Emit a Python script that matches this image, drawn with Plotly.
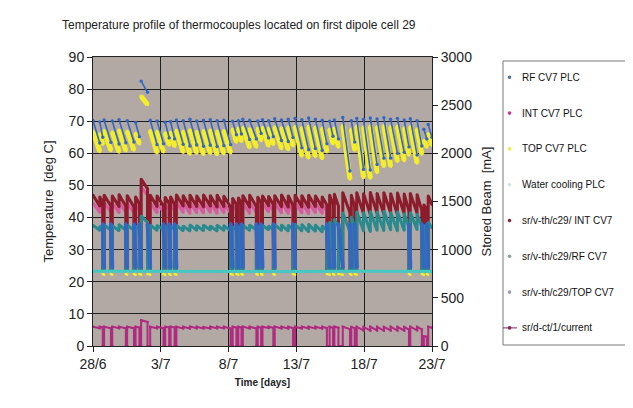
import plotly.graph_objects as go

# ---------------- data (days since 28/6) ----------------
tick_days = [0, 5, 10, 15, 20, 25]
tick_labels = ["28/6", "3/7", "8/7", "13/7", "18/7", "23/7"]

series_names = ["RF CV7 PLC", "INT CV7 PLC", "TOP CV7 PLC", "Water cooling PLC",
                "sr/v-th/c29/ INT CV7", "sr/v-th/c29/RF CV7", "sr/v-th/c29/TOP CV7",
                "sr/d-ct/1/current"]

# beam-fill periods (start / end of each fill); gaps between them = beam off
on_t0 = [0.00, 0.50, 0.82, 1.42, 1.92, 2.52, 3.14, 3.55, 4.22, 4.72,
         5.32, 5.72, 6.15, 6.65, 7.15, 7.65, 8.15, 8.65, 9.15, 9.65,
         10.30, 10.72, 11.05, 11.55, 12.15, 12.50, 12.95, 13.40, 13.90, 14.40,
         14.90, 15.40, 15.90, 16.40, 16.90, 17.45, 17.80, 18.42, 19.05, 19.45,
         19.95, 20.45, 20.95, 21.45, 21.95, 22.45, 22.95, 23.40, 23.90, 24.40,
         24.72]
on_t1 = [0.50, 0.72, 1.32, 1.92, 2.42, 3.02, 3.42, 4.02, 4.72, 5.20,
         5.62, 6.02, 6.65, 7.15, 7.65, 8.15, 8.65, 9.15, 9.65, 10.15,
         10.58, 10.95, 11.55, 12.05, 12.40, 12.95, 13.30, 13.90, 14.40, 14.75,
         15.40, 15.90, 16.40, 16.90, 17.25, 17.70, 18.10, 18.95, 19.30, 19.95,
         20.45, 20.95, 21.45, 21.95, 22.45, 22.95, 23.30, 23.90, 24.25, 24.62,
         25.00]

# RF CV7 PLC (deg C) at start / end of each fill
rf_hi = [70.2, 69.8, 70.4, 70.1, 70.5, 70.2, 69.6, 82.5, 70.3, 70.1,
         69.7, 69.9, 70.4, 70.2, 70.6, 70.1, 70.3, 70.5, 70.2, 70.3,
         70.0, 70.2, 70.6, 70.3, 70.1, 70.5, 70.2, 70.8, 70.4, 70.6,
         70.9, 70.5, 71.0, 70.6, 70.3, 70.0, 70.4, 71.2, 70.2, 70.9,
         70.6, 71.0, 70.7, 71.1, 70.6, 70.9, 70.4, 70.8, 70.2, 67.5,
         69.0]
rf_lo = [63.2, 65.0, 63.4, 62.9, 63.3, 63.5, 65.2, 79.0, 62.7, 63.0,
         64.8, 64.5, 62.8, 62.3, 62.6, 62.2, 62.5, 62.1, 62.4, 62.7,
         65.8, 66.0, 64.3, 64.5, 66.2, 64.8, 65.2, 64.0, 63.7, 64.9,
         61.7, 61.1, 61.5, 60.9, 63.0, 65.3, 64.5, 54.5, 63.5, 55.0,
         54.8, 56.5, 58.5, 58.5, 60.0, 60.3, 62.0, 59.5, 62.3, 64.5,
         65.0]
rf_off = [38.0, 24.5]      # RF reading while beam is off (top / bottom of the column)

# INT CV7 PLC
int_hi = [44.6, 44.2, 44.7, 44.5, 44.8, 44.6, 44.2, 49.5, 44.6, 44.5,
          44.0, 44.2, 44.8, 44.6, 44.7, 44.5, 44.8, 44.6, 44.7, 44.4,
          43.8, 44.0, 44.6, 44.7, 44.1, 44.5, 44.3, 44.6, 44.8, 44.5,
          44.7, 44.6, 44.7, 44.5, 44.2, None, None, None, None, None,
          None, None, None, None, None, None, None, None, None, None,
          None]
int_lo = [41.6, 42.5, 41.7, 41.5, 41.6, 41.4, 42.3, 47.0, 41.5, 41.7,
          42.4, 42.1, 41.6, 41.3, 41.5, 41.4, 41.6, 41.3, 41.5, 41.4,
          42.1, 42.4, 41.3, 41.5, 42.6, 41.7, 42.1, 41.4, 41.3, 41.9,
          41.4, 41.2, 41.5, 41.3, 42.0, None, None, None, None, None,
          None, None, None, None, None, None, None, None, None, None,
          None]
int_off = 24.5

# TOP CV7 PLC
top_hi = [66.8, 66.0, 67.0, 66.6, 67.2, 66.9, 66.2, 77.8, 67.0, 66.8,
          66.3, 66.5, 67.1, 66.9, 67.3, 66.8, 67.0, 67.2, 66.9, 67.0,
          67.5, 67.8, 68.0, 67.6, 67.8, 68.0, 67.7, 68.2, 67.9, 68.1,
          68.3, 68.0, 68.4, 68.1, 67.8, 67.5, 67.8, 68.6, 67.5, 68.4,
          68.2, 68.5, 68.3, 68.6, 68.2, 68.4, 67.9, 68.3, 67.6, 64.0,
          66.0]
top_lo = [60.6, 62.8, 60.9, 60.4, 60.8, 61.0, 63.0, 75.2, 60.2, 60.5,
          62.6, 62.2, 60.3, 59.8, 60.1, 59.7, 60.0, 59.6, 59.9, 60.2,
          63.5, 63.8, 61.8, 62.0, 64.0, 62.3, 62.8, 61.5, 61.2, 62.4,
          59.2, 58.6, 59.0, 58.4, 60.5, 63.0, 62.0, 52.0, 61.0, 52.5,
          52.3, 54.0, 56.0, 56.0, 57.5, 57.8, 59.5, 57.0, 59.8, 62.0,
          62.5]
top_off = [22.4, 22.2]

# Water cooling PLC
water_t = [0, 5, 10, 15, 20, 25]
water_v = [23.3, 23.2, 23.3, 23.2, 23.3, 23.2]

# sr/v-th/c29/ INT CV7
c29_int_hi = [47.0, 46.5, 47.0, 46.8, 47.2, 46.9, 46.5, 52.0, 47.0, 46.8,
              46.3, 46.5, 47.1, 46.9, 47.0, 46.8, 47.1, 46.9, 47.0, 46.7,
              46.0, 46.2, 46.9, 47.0, 46.4, 46.8, 46.6, 46.9, 47.1, 46.8,
              47.0, 46.9, 47.0, 46.8, 46.5, 47.0, 47.3, 47.8, 47.0, 47.8,
              47.5, 47.9, 47.6, 47.8, 47.5, 47.7, 47.4, 47.6, 47.2, 44.0,
              46.8]
c29_int_lo = [43.5, 44.5, 43.6, 43.4, 43.5, 43.3, 44.2, 49.0, 43.4, 43.6,
              44.3, 44.0, 43.5, 43.2, 43.4, 43.3, 43.5, 43.2, 43.4, 43.3,
              44.0, 44.3, 43.2, 43.4, 44.5, 43.6, 44.0, 43.3, 43.2, 43.8,
              43.3, 43.1, 43.4, 43.2, 43.9, 44.0, 43.5, 41.5, 43.5, 41.2,
              41.0, 41.3, 41.1, 41.4, 41.0, 41.2, 42.0, 41.3, 42.2, 42.5,
              44.0]
c29_int_off = 24.0

# sr/v-th/c29/RF CV7
c29_rf_hi = [37.6, 37.2, 37.7, 37.5, 37.8, 37.6, 37.3, 40.5, 37.7, 37.5,
             37.2, 37.3, 37.6, 37.4, 37.7, 37.5, 37.6, 37.4, 37.6, 37.5,
             37.0, 37.1, 37.6, 37.7, 37.2, 37.5, 37.4, 37.8, 37.7, 37.6,
             37.9, 37.8, 37.9, 37.7, 37.4, 38.5, 39.5, 41.5, 40.2, 41.8,
             41.6, 41.9, 41.7, 42.0, 41.6, 41.8, 41.3, 41.6, 41.0, 37.5,
             38.5]
c29_rf_lo = [36.0, 36.4, 36.1, 35.9, 36.0, 36.1, 36.5, 38.5, 36.0, 36.2,
             36.4, 36.3, 35.9, 35.8, 36.0, 35.9, 36.1, 35.8, 36.0, 35.9,
             36.3, 36.4, 36.0, 36.1, 36.5, 36.2, 36.3, 36.0, 35.8, 36.2,
             35.8, 35.6, 35.7, 35.5, 36.0, 36.8, 37.2, 35.5, 37.0, 35.8,
             35.6, 36.0, 35.9, 36.1, 35.8, 36.0, 37.0, 36.2, 37.2, 36.0,
             36.8]
c29_rf_off = 24.0

# sr/v-th/c29/TOP CV7 (no points visible in the picture)
c29_top_t = []
c29_top_v = []

# sr/d-ct/1/current (mA)
beam_hi = [200, 199, 200, 201, 199, 200, 201, 268, 200, 199,
           200, 201, 200, 199, 201, 200, 198, 200, 199, 200,
           199, 200, 201, 199, 200, 200, 199, 201, 200, 199,
           200, 201, 199, 200, 200, 199, 201, 200, 198, 199,
           198, 200, 199, 198, 200, 199, 198, 200, 199, 102,
           200]
beam_lo = [185, 192, 184, 185, 184, 185, 192, 250, 184, 185,
           191, 191, 183, 182, 184, 183, 182, 184, 183, 182,
           191, 192, 183, 182, 190, 186, 188, 183, 182, 186,
           183, 182, 183, 182, 187, 190, 190, 175, 185, 162,
           160, 161, 160, 162, 160, 161, 170, 163, 172, 96,
           190]
beam_off = 0


def build(hi, lo, off):
    """Connected sawtooth path from the fill table, dropping to `off` between fills."""
    xs, ys = [], []
    n = len(on_t0)
    for i in range(n):
        if hi[i] is None:
            if xs and xs[-1] is not None:
                xs.append(None)
                ys.append(None)
            continue
        xs += [on_t0[i], on_t1[i]]
        ys += [hi[i], lo[i]]
        if i + 1 < n and on_t0[i + 1] > on_t1[i] + 1e-6:
            xs += [on_t1[i], on_t0[i + 1]]
            ys += [off, off]
    return xs, ys


def build_strokes(hi, lo):
    """Each fill drawn as its own stroke (no connecting rise)."""
    xs, ys = [], []
    for i in range(len(on_t0)):
        xs += [on_t0[i], on_t1[i], None]
        ys += [hi[i], lo[i], None]
    return xs, ys


def build_off(off_top, off_bottom):
    """Strokes for the beam-off gaps between fills."""
    xs, ys = [], []
    for i in range(len(on_t0) - 1):
        if on_t0[i + 1] > on_t1[i] + 1e-6:
            xs += [on_t1[i], on_t0[i + 1], None]
            ys += [off_top, off_bottom, None]
    return xs, ys


# ---------------- styles ----------------
C_RF = "#3466c4"
C_INT = "#d65a9e"
C_TOP = "#f4ee2a"
C_WATER = "#46c8c2"
C_C29INT = "#8c1c2c"
C_C29RF = "#2a8a8e"
C_C29TOP = "#9a9ab8"
C_BEAM = "#b02a80"

LEG_COLORS = ["#4d6fa6", "#d0358c", "#eeee50", "#cfe4ec",
              "#8e2232", "#8aa3a0", "#9a9ab8", "#8a2452"]

fig = go.Figure()


def add(name, xs, ys, color, width, msize, yaxis="y"):
    fig.add_trace(go.Scatter(
        x=xs, y=ys, name=name, mode="lines+markers", yaxis=yaxis,
        line=dict(color=color, width=width),
        marker=dict(color=color, size=msize),
        showlegend=False, connectgaps=False, hoverinfo="skip"))


x, y = build(int_hi, int_lo, int_off)
add(series_names[1], x, y, C_INT, 3, 2.5)
x, y = build_strokes(top_hi, top_lo)
add(series_names[2], x, y, C_TOP, 5, 3.5)
x, y = build_off(top_off[0], top_off[1])
add(series_names[2], x, y, C_TOP, 2, 2.5)
add(series_names[6], c29_top_t, c29_top_v, C_C29TOP, 1, 2.5)
x, y = build(c29_int_hi, c29_int_lo, c29_int_off)
add(series_names[4], x, y, C_C29INT, 3, 2.5)
x, y = build(c29_rf_hi, c29_rf_lo, c29_rf_off)
add(series_names[5], x, y, C_C29RF, 3, 2.5)
x, y = build_strokes(rf_hi, rf_lo)
add(series_names[0], x, y, C_RF, 1.6, 3.4)
x, y = build_off(rf_off[0], rf_off[1])
add(series_names[0], x, y, C_RF, 4, 3.5)
add(series_names[3], water_t, water_v, C_WATER, 3, 2)
x, y = build(beam_hi, beam_lo, beam_off)
add(series_names[7], x, y, C_BEAM, 2, 2.5, yaxis="y2")

# ---------------- layout ----------------
# pixel positions below are page pixels; the page body has an 8 px margin
OFF = 8
W, H = 633 - OFF, 408 - OFF
PL, PR, PT, PB = 93, 432, 57, 346


def px_x(p):
    return (p - PL) / (PR - PL)


def px_y(p):
    return (PB - p) / (PB - PT)


FONT = "Liberation Sans, Arial, sans-serif"
axis_common = dict(showline=True, linecolor="#222", linewidth=1, ticks="outside",
                   ticklen=5, tickcolor="#222", zeroline=False,
                   tickfont=dict(size=14, color="#222"))

fig.update_layout(
    width=W, height=H,
    margin=dict(l=PL - OFF, r=633 - PR, t=PT - OFF, b=408 - PB),
    paper_bgcolor="white", plot_bgcolor="#b2a9a4",
    font=dict(family=FONT, color="#222"), showlegend=False, hovermode=False,
    title=dict(text="Temperature profile of thermocouples located on first dipole cell 29",
               xref="container", x=(62 - OFF) / W, xanchor="left",
               yref="container", y=1 - (25 - OFF) / H, yanchor="middle",
               font=dict(size=12, color="#222")),
    xaxis=dict(range=[0, 25], tickvals=tick_days, ticktext=tick_labels,
               showgrid=True, gridcolor="#1e1e1e", gridwidth=1, mirror=True,
               title=dict(text="<b>Time [days]</b>", font=dict(size=10), standoff=8),
               **axis_common),
    yaxis=dict(range=[0, 90], tick0=0, dtick=10, showgrid=True,
               gridcolor="#1e1e1e", gridwidth=1,
               title=dict(text="Temperature\u00a0 [deg C]", font=dict(size=13), standoff=12),
               **axis_common),
    yaxis2=dict(range=[0, 3000], tick0=0, dtick=500, overlaying="y", side="right",
                showgrid=False,
                title=dict(text="Stored Beam\u00a0 [mA]", font=dict(size=13), standoff=10),
                **axis_common),
)

# ---------------- legend box (drawn beside the plot) ----------------
shapes = [dict(type="rect", xref="paper", yref="paper",
               x0=px_x(503), x1=px_x(627), y0=px_y(345), y1=px_y(61),
               line=dict(color="#7a7a7a", width=1), fillcolor="white", layer="below")]
annotations = []
for k, (nm, col) in enumerate(zip(series_names, LEG_COLORS)):
    yc = 77.3 + k * 35.8
    if k == len(series_names) - 1:
        shapes.append(dict(type="line", xref="paper", yref="paper",
                           x0=px_x(503), x1=px_x(517), y0=px_y(yc), y1=px_y(yc),
                           line=dict(color=col, width=1)))
    shapes.append(dict(type="circle", xref="paper", yref="paper",
                       xsizemode="pixel", ysizemode="pixel",
                       xanchor=px_x(509.5), yanchor=px_y(yc),
                       x0=-1.8, x1=1.8, y0=-1.8, y1=1.8,
                       line=dict(width=0), fillcolor=col))
    annotations.append(dict(text=nm, xref="paper", yref="paper",
                            x=px_x(520), y=px_y(yc), xanchor="left", yanchor="middle",
                            showarrow=False, font=dict(size=10, color="#111")))

fig.update_layout(shapes=shapes, annotations=annotations)

fig.write_html("out.html")
